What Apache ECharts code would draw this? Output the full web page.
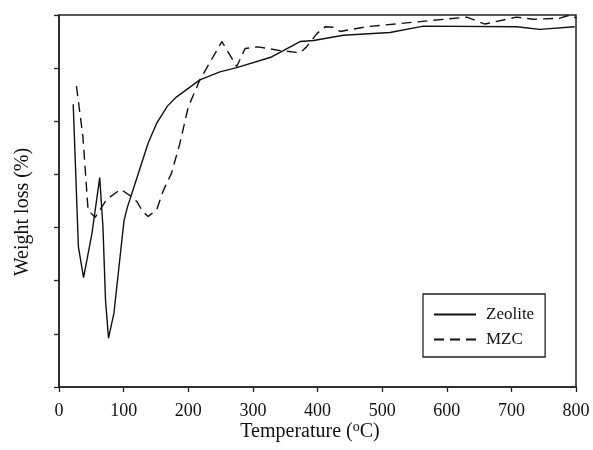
<!DOCTYPE html>
<html><head><meta charset="utf-8">
<script src="https://cdn.jsdelivr.net/npm/echarts@6/dist/echarts.min.js"></script>
<style>html,body{margin:0;padding:0;background:#fff}#c{width:593px;height:450px}</style>
</head><body><div id="c"></div>
<script>
const xTicks = [0,100,200,300,400,500,600,700,800];
const zeoliteT = [22,30,38,51,63,68,72,76.6,85,100.6,106,117,138,151,168,182,218,249,275,329,373,394,440,512,564,708,744,798];
const zeoliteW = [5.32,2.64,2.06,2.89,3.94,3.01,1.63,0.92,1.39,3.13,3.39,3.80,4.59,4.96,5.29,5.46,5.78,5.93,6.01,6.21,6.50,6.52,6.62,6.67,6.79,6.78,6.73,6.78];
const mzcT = [27,37,45,56,63,74,95.5,112.5,121,129.5,138,151,161.5,174,187,200,218,252,275,288,308,342,373,383,399,412,425,435,476,528,631,659,708,734,775,791,801];
const mzcW = [5.66,4.71,3.33,3.19,3.33,3.53,3.72,3.58,3.48,3.30,3.21,3.33,3.70,4.02,4.58,5.27,5.78,6.50,6.03,6.37,6.40,6.33,6.29,6.40,6.65,6.78,6.77,6.69,6.78,6.84,6.96,6.83,6.96,6.92,6.94,7.0,6.94];

const pair = (a,b)=>a.map((v,i)=>[v,b[i]]);
const font = '"Liberation Serif","Times New Roman",serif';
const chart = echarts.init(document.getElementById('c'));
chart.setOption({
  animation:false,
  backgroundColor:'#fff',
  grid:{left:59,right:17,top:15,bottom:63,show:true,borderColor:'#222',borderWidth:1.5},
  xAxis:{type:'value',min:0,max:800,interval:100,
    axisLine:{lineStyle:{color:'#222',width:1.5}},
    axisTick:{length:5,lineStyle:{color:'#222',width:1.3}},
    axisLabel:{fontFamily:font,fontSize:18,color:'#111',margin:15,
      formatter:v=>xTicks.includes(v)?String(v):''},
    splitLine:{show:false}},
  yAxis:{type:'value',min:0,max:7,interval:1,
    axisLine:{show:true,lineStyle:{color:'#222',width:1.5}},
    axisTick:{show:true,length:5,lineStyle:{color:'#222',width:1.3}},
    axisLabel:{show:false},splitLine:{show:false}},
  legend:{orient:'vertical',left:423,top:294,
    padding:[12,11,9,10],itemGap:8,itemWidth:42,itemHeight:17,
    borderColor:'#222',borderWidth:1.3,
    itemStyle:{opacity:0},
    textStyle:{fontFamily:font,fontSize:17,color:'#111',padding:[0,0,0,5]},
    data:['Zeolite','MZC']},
  graphic:[
    {type:'text',x:310,y:432,style:{
      text:'Temperature ({sup|o}C)',font:'20px '+font,fill:'#111',align:'center',verticalAlign:'middle',
      rich:{sup:{fontSize:14,verticalAlign:'top',padding:[0,0,9,0],fontFamily:font,fill:'#111'}}}},
    {type:'text',x:23,y:212,rotation:Math.PI/2,style:{
      text:'Weight loss (%)',font:'20px '+font,fill:'#111',align:'center',verticalAlign:'middle'}}
  ],
  series:[
    {name:'Zeolite',type:'line',data:pair(zeoliteT,zeoliteW),symbol:'none',smooth:false,
     lineStyle:{color:'#111',width:1.4,type:'solid'},itemStyle:{color:'#111'}},
    {name:'MZC',type:'line',data:pair(mzcT,mzcW),symbol:'none',smooth:false,
     lineStyle:{color:'#111',width:1.4,type:[10,6]},itemStyle:{color:'#111'}}
  ]
});
</script></body></html>
